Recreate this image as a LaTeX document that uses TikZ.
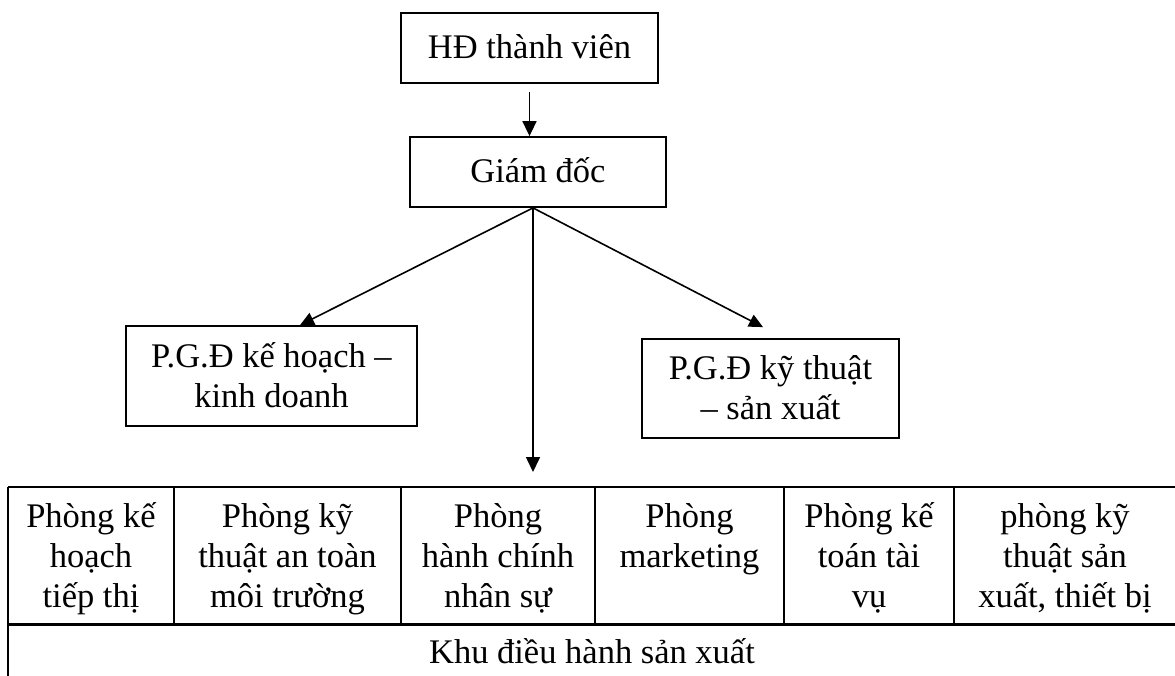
\documentclass[tikz,border=0pt]{standalone}
\usepackage{fontspec}
\setmainfont{Liberation Serif}
\usetikzlibrary{arrows.meta}
\newcommand{\orgfont}{\fontsize{34.5}{40}\selectfont\lineskiplimit=-100pt\relax}
\newcommand{\firstline}{\rule{0pt}{31pt}}
\newcommand{\lastline}{\rule[-9pt]{0pt}{9pt}}
\newcommand{\cellstrut}{\rule{0pt}{34pt}}
\begin{document}
\begin{tikzpicture}[x=1pt,y=-1pt,
  box/.style={draw, line width=1.8pt, fill=white, rectangle, inner sep=0pt,
    align=center, font=\orgfont},
  arr/.style={line width=1.6pt, -{Triangle[length=15pt,width=14pt]}},
  grid/.style={line width=2.8pt},
  cell/.style={anchor=north, align=center, inner sep=0pt, font=\orgfont}]
\useasboundingbox (0,0) rectangle (1175,675);
\clip (0,0) rectangle (1175,675);

% management boxes
\node[box, minimum width=257pt, minimum height=70pt, text height=28pt, text depth=8pt]
  (hd) at (529.5,48) {HĐ thành viên};
\node[box, minimum width=256pt, minimum height=70pt, text height=28pt, text depth=8pt]
  (gd) at (538,172) {Giám đốc};
\node[box, minimum width=291pt, minimum height=100pt]
  (pkd) at (271.5,376) {\firstline P.G.Đ kế hoạch –\\kinh doanh\lastline};
\node[box, minimum width=257pt, minimum height=99pt]
  (pkt) at (770.5,388.5) {\firstline P.G.Đ kỹ thuật\\– sản xuất\lastline};

% department table
\node[minimum width=1168pt, minimum height=137pt, inner sep=0pt, anchor=north west]
  (row) at (8,487) {};
\draw[grid] (row.north west) -- (row.north east);
\draw[grid] (row.south west) -- (row.south east);
\draw[grid] (row.north west) -- (8,690);
\foreach \xx in {174,401,595,784,954}
  \draw[grid] (\xx,487) -- (\xx,624);

\node[cell] (c1) at (91,493)   {\cellstrut Phòng kế\\hoạch\\tiếp thị};
\node[cell] (c2) at (287.5,493) {\cellstrut Phòng kỹ\\thuật an toàn\\môi trường};
\node[cell] (c3) at (498,493)  {\cellstrut Phòng\\hành chính\\nhân sự};
\node[cell] (c4) at (689.5,493) {\cellstrut Phòng\\marketing};
\node[cell] (c5) at (869,493)  {\cellstrut Phòng kế\\toán tài\\vụ};
\node[cell] (c6) at (1065,493) {\cellstrut phòng kỹ\\thuật sản\\xuất, thiết bị};
\node[anchor=base, inner sep=0pt, font=\orgfont] (khu) at (592,663) {Khu điều hành sản xuất};

% connectors
\draw[arr] ([yshift=-8pt]hd.south) -- (hd.south |- gd.north);
\coordinate (apex) at ([xshift=-5pt]gd.south);
\draw[arr, -{Triangle[length=14pt,width=13pt]}] (apex) -- ([xshift=28.5pt]pkd.north);
\draw[arr, -{Triangle[length=14pt,width=13pt]}] (apex) -- ([xshift=-7.5pt,yshift=11pt]pkt.north);
\path (row.north -| apex) ++(0,-15) coordinate (vend);
\draw[arr] (apex) -- (vend);
\end{tikzpicture}
\end{document}
